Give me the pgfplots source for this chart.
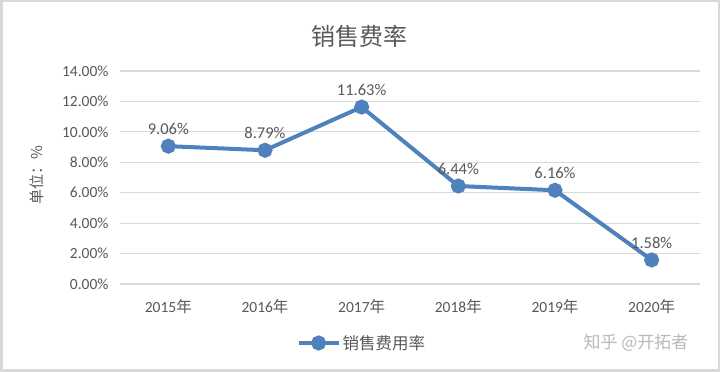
\documentclass[border=0pt]{standalone}
\usepackage{fontspec}
\setmainfont{Carlito}
\newfontfamily\cjk{Noto Sans CJK SC}
\usepackage{pgfplots}
\pgfplotsset{compat=1.18}
\definecolor{linec}{HTML}{4F81BD}
\definecolor{txt}{HTML}{595959}
\definecolor{gridc}{HTML}{D9D9D9}
\begin{document}
\begin{tikzpicture}[x=1pt,y=1pt]
\fill[white] (0,0) rectangle (720,372);
\draw[gridc, line width=2.5pt] (1.25,1.25) rectangle (718.75,370.75);
\node[txt, font=\cjk\fontsize{24}{28}\selectfont] at (359,336) {销售费率};
\node[gray!55, font=\cjk\fontsize{17}{20}\selectfont] at (636,29) {知乎\ @开拓者};
\begin{axis}[
  at={(120pt,88pt)}, anchor=south west, scale only axis,
  width=580pt, height=213pt,
  xmin=-0.5, xmax=5.5, ymin=0, ymax=14,
  /pgf/number format/assume math mode=true,
  xtick={0,...,5},
  xticklabels={2015{\cjk 年},2016{\cjk 年},2017{\cjk 年},2018{\cjk 年},2019{\cjk 年},2020{\cjk 年}},
  ytick={0,2,...,14},
  yticklabels={0.00\%,2.00\%,4.00\%,6.00\%,8.00\%,10.00\%,12.00\%,14.00\%},
  axis line style={draw=none},
  major tick length=0pt,
  ymajorgrids,
  grid style={gridc, line width=1.2pt},
  tick label style={txt, font=\fontsize{15.5}{18}\selectfont},
  xticklabel style={yshift=-12pt},
  yticklabel style={xshift=-8pt},
  ylabel={单位：\%},
  every axis y label/.style={at={(axis description cs:-0.143,0.51)}, rotate=90, anchor=center,
    txt, font=\cjk\fontsize{15}{18}\selectfont},
  clip=false,
  legend style={at={(axis description cs:0.417,-0.277)}, anchor=center, draw=none, fill=none,
    font=\cjk\fontsize{16.5}{20}\selectfont, text=txt},
  legend image code/.code={
    \draw[linec, line width=4pt] (0pt,0pt) -- (40pt,0pt);
    \fill[linec] (20pt,0pt) circle (5.5pt);
  },
  legend cell align=left,
]
\addplot[linec, line width=4pt, mark=*, mark size=5.5pt, mark options={fill=linec, draw=linec},
  point meta=explicit symbolic,
  nodes near coords,
  nodes near coords style={txt, font=\fontsize{16.5}{20}\selectfont, anchor=south, yshift=6pt},
] coordinates {
  (0,9.06) [9.06\%]
  (1,8.79) [8.79\%]
  (2,11.63) [11.63\%]
  (3,6.44) [6.44\%]
  (4,6.16) [6.16\%]
  (5,1.58) [1.58\%]
};
\addlegendentry{销售费用率}
\end{axis}
\end{tikzpicture}
\end{document}
